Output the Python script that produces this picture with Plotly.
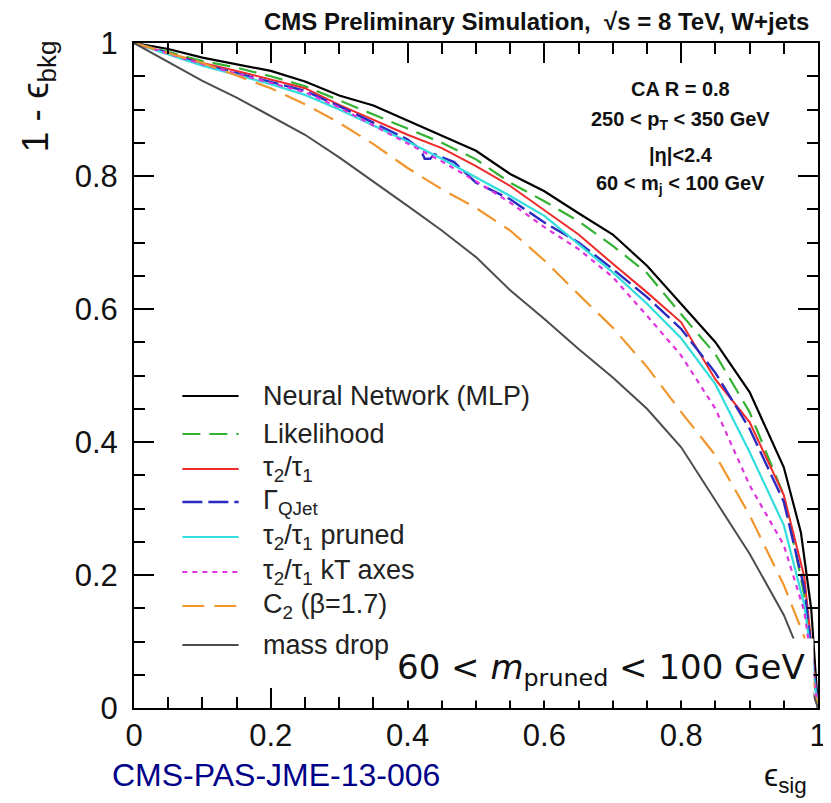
import plotly.graph_objects as go

# ---------------- data (signal efficiency vs 1 - background efficiency) ----------------
x_nn = [0, 0.05, 0.1, 0.15, 0.2, 0.25, 0.3, 0.35, 0.4, 0.45, 0.5, 0.55, 0.6, 0.65, 0.7, 0.75, 0.8, 0.85, 0.9, 0.95, 0.975, 0.99, 1.0]
y_nn = [1, 0.991, 0.978, 0.968, 0.958, 0.942, 0.921, 0.906, 0.883, 0.860, 0.838, 0.803, 0.777, 0.744, 0.712, 0.665, 0.608, 0.550, 0.475, 0.362, 0.264, 0.15, 0.0]

x_lik = [0, 0.05, 0.1, 0.15, 0.2, 0.25, 0.3, 0.35, 0.4, 0.45, 0.5, 0.55, 0.6, 0.65, 0.7, 0.75, 0.8, 0.85, 0.9, 0.95, 0.98, 1.0]
y_lik = [1, 0.987, 0.973, 0.963, 0.950, 0.935, 0.914, 0.892, 0.872, 0.850, 0.825, 0.790, 0.762, 0.732, 0.695, 0.654, 0.592, 0.532, 0.445, 0.320, 0.170, 0.0]

x_t21 = [0, 0.05, 0.1, 0.15, 0.2, 0.25, 0.3, 0.35, 0.4, 0.45, 0.5, 0.55, 0.6, 0.65, 0.7, 0.75, 0.8, 0.85, 0.9, 0.95, 0.98, 1.0]
y_t21 = [1, 0.985, 0.970, 0.958, 0.945, 0.932, 0.907, 0.884, 0.862, 0.842, 0.815, 0.785, 0.748, 0.712, 0.668, 0.625, 0.580, 0.494, 0.430, 0.320, 0.197, 0.0]

x_qjet = [0, 0.05, 0.1, 0.15, 0.2, 0.25, 0.3, 0.35, 0.4, 0.419, 0.425, 0.433, 0.439, 0.468, 0.5, 0.55, 0.6, 0.65, 0.7, 0.75, 0.8, 0.85, 0.9, 0.95, 0.98, 1.0]
y_qjet = [1, 0.985, 0.968, 0.955, 0.942, 0.928, 0.905, 0.880, 0.855, 0.840, 0.826, 0.826, 0.833, 0.821, 0.790, 0.765, 0.730, 0.700, 0.660, 0.618, 0.570, 0.504, 0.420, 0.310, 0.180, 0.0]

x_pr = [0, 0.05, 0.1, 0.15, 0.2, 0.25, 0.3, 0.35, 0.4, 0.45, 0.5, 0.55, 0.6, 0.65, 0.7, 0.75, 0.8, 0.85, 0.9, 0.95, 0.98, 1.0]
y_pr = [1, 0.983, 0.966, 0.952, 0.938, 0.922, 0.900, 0.876, 0.852, 0.826, 0.798, 0.770, 0.740, 0.698, 0.655, 0.608, 0.556, 0.487, 0.385, 0.275, 0.155, 0.0]

x_kt = [0, 0.05, 0.1, 0.15, 0.2, 0.25, 0.3, 0.35, 0.4, 0.45, 0.5, 0.55, 0.6, 0.65, 0.7, 0.75, 0.8, 0.85, 0.9, 0.95, 0.98, 1.0]
y_kt = [1, 0.984, 0.968, 0.954, 0.940, 0.926, 0.903, 0.876, 0.848, 0.822, 0.792, 0.760, 0.723, 0.690, 0.648, 0.590, 0.530, 0.450, 0.335, 0.245, 0.145, 0.0]

x_c2 = [0, 0.05, 0.1, 0.15, 0.2, 0.25, 0.3, 0.35, 0.4, 0.45, 0.5, 0.55, 0.6, 0.65, 0.7, 0.75, 0.8, 0.85, 0.9, 0.95, 0.98, 1.0]
y_c2 = [1, 0.985, 0.970, 0.951, 0.932, 0.908, 0.880, 0.848, 0.812, 0.780, 0.752, 0.718, 0.673, 0.622, 0.572, 0.513, 0.445, 0.380, 0.290, 0.185, 0.107, 0.0]

x_md = [0, 0.05, 0.1, 0.15, 0.2, 0.25, 0.3, 0.35, 0.4, 0.45, 0.5, 0.55, 0.6, 0.65, 0.7, 0.75, 0.8, 0.85, 0.9, 0.95, 0.97, 1.0]
y_md = [1, 0.972, 0.943, 0.918, 0.890, 0.862, 0.828, 0.792, 0.755, 0.718, 0.678, 0.628, 0.585, 0.540, 0.497, 0.450, 0.392, 0.312, 0.232, 0.140, 0.090, 0.0]

x_ticks = [0, 0.2, 0.4, 0.6, 0.8, 1]
x_ticklabels = ["0", "0.2", "0.4", "0.6", "0.8", "1"]
y_ticks = [0, 0.2, 0.4, 0.6, 0.8, 1]
y_ticklabels = ["0", "0.2", "0.4", "0.6", "0.8", "1"]

series = [
    ("Neural Network (MLP)", x_nn, y_nn, "#000000", "solid", 2.2),
    ("Likelihood", x_lik, y_lik, "#33b233", "18px,9px", 2.2),
    ("τ<sub>2</sub>/τ<sub>1</sub>", x_t21, y_t21, "#ee2a2a", "solid", 2.0),
    ("Γ<sub>QJet</sub>", x_qjet, y_qjet, "#2a2ac0", "20px,6px", 2.4),
    ("τ<sub>2</sub>/τ<sub>1</sub> pruned", x_pr, y_pr, "#33dddd", "solid", 2.2),
    ("τ<sub>2</sub>/τ<sub>1</sub> kT axes", x_kt, y_kt, "#e033e0", "5px,5px", 2.2),
    ("C<sub>2</sub> (β=1.7)", x_c2, y_c2, "#f0962e", "22px,10px", 2.2),
    ("mass drop", x_md, y_md, "#4d4d4d", "solid", 2.0),
]

fig = go.Figure()
for name, xs, ys, col, dash, w in series:
    fig.add_trace(go.Scatter(x=xs, y=ys, mode="lines", name=name, showlegend=False,
                             line=dict(color=col, dash=dash, width=w)))

# page geometry (the page body has an 8 px margin)
OFF = 8
PAGE_W, PAGE_H = 831, 803
L, R, T, B = 134, 827, 43, 708          # plot area in page pixels
W, H = PAGE_W - OFF, PAGE_H - OFF
def px(xp):
    return (xp - L) / (R - L)
def py(yp):
    return (B - yp) / (B - T)

# manual legend
leg_rows = [396, 434, 469, 502, 537, 572, 606, 645]
shapes = []
annos = []
for (name, xs, ys, col, dash, w), yr in zip(series, leg_rows):
    shapes.append(dict(type="line", xref="paper", yref="paper", x0=px(183), x1=px(240),
                       y0=py(yr), y1=py(yr), line=dict(color=col, dash=dash, width=w)))
    annos.append(dict(xref="paper", yref="paper", x=px(263), y=py(yr), text=name,
                      showarrow=False, xanchor="left", yanchor="middle",
                      font=dict(family="Liberation Sans, Arial", size=27, color="#222222")))

# header
annos.append(dict(xref="paper", yref="paper", x=px(820), y=py(22), xanchor="right", yanchor="middle",
                  text="<b>CMS Preliminary Simulation,  √s = 8 TeV, W+jets</b>", showarrow=False,
                  font=dict(family="Liberation Sans, Arial", size=24, color="#111111")))
# info box
info = [("<b>CA R = 0.8</b>", 89), ("<b>250 &lt; p<sub>T</sub> &lt; 350 GeV</b>", 120),
        ("<b>|η|&lt;2.4</b>", 155), ("<b>60 &lt; m<sub>j</sub> &lt; 100 GeV</b>", 185)]
for t, yy in info:
    annos.append(dict(xref="paper", yref="paper", x=px(688), y=py(yy), xanchor="center", yanchor="middle",
                      text=t, showarrow=False,
                      font=dict(family="Liberation Sans, Arial", size=20, color="#111111")))
# mass window label with white box
annos.append(dict(xref="paper", yref="paper", x=px(823), y=py(669), xanchor="right", yanchor="middle",
                  text="60 &lt; <i>m</i><sub>pruned</sub> &lt; 100 GeV", showarrow=False,
                  bgcolor="white", borderpad=8,
                  font=dict(family="DejaVu Sans", size=34, color="#111111")))
# axis titles
annos.append(dict(xref="paper", yref="paper", x=px(37), y=py(38), xanchor="center", yanchor="top",
                  textangle=-90, text="1 - ϵ<sub>bkg</sub>", showarrow=False,
                  font=dict(family="Liberation Sans, Arial", size=37, color="#111111")))
annos.append(dict(xref="paper", yref="paper", x=px(818), y=py(778), xanchor="right", yanchor="middle",
                  text="ϵ<sub>sig</sub>", showarrow=False,
                  font=dict(family="Liberation Sans, Arial", size=32, color="#111111")))
# document tag
annos.append(dict(xref="paper", yref="paper", x=px(110), y=py(775), xanchor="left", yanchor="middle",
                  text="CMS-PAS-JME-13-006", showarrow=False,
                  font=dict(family="Liberation Sans, Arial", size=32, color="#000088")))

axis_common = dict(showgrid=False, zeroline=False, showline=True, linecolor="black", linewidth=2,
                   mirror="allticks", ticks="inside", ticklen=20, tickwidth=1.5, tickcolor="black",
                   range=[0, 1], ticklabeloverflow="allow",
                   tickfont=dict(family="Liberation Sans, Arial", size=31, color="#111111"),
                   minor=dict(dtick=0.05, ticklen=11, tickwidth=1.5, tickcolor="black", ticks="inside"))

fig.update_layout(
    width=W, height=H,
    margin=dict(l=L - OFF, r=W - (R - OFF), t=T - OFF, b=H - (B - OFF)),
    paper_bgcolor="white", plot_bgcolor="white",
    xaxis=dict(**axis_common, tickvals=x_ticks, ticktext=x_ticklabels, ticklabelstandoff=-1),
    yaxis=dict(**axis_common, tickvals=y_ticks, ticktext=y_ticklabels, ticklabelstandoff=8),
    shapes=shapes, annotations=annos, showlegend=False,
)

fig.write_html("out.html")
